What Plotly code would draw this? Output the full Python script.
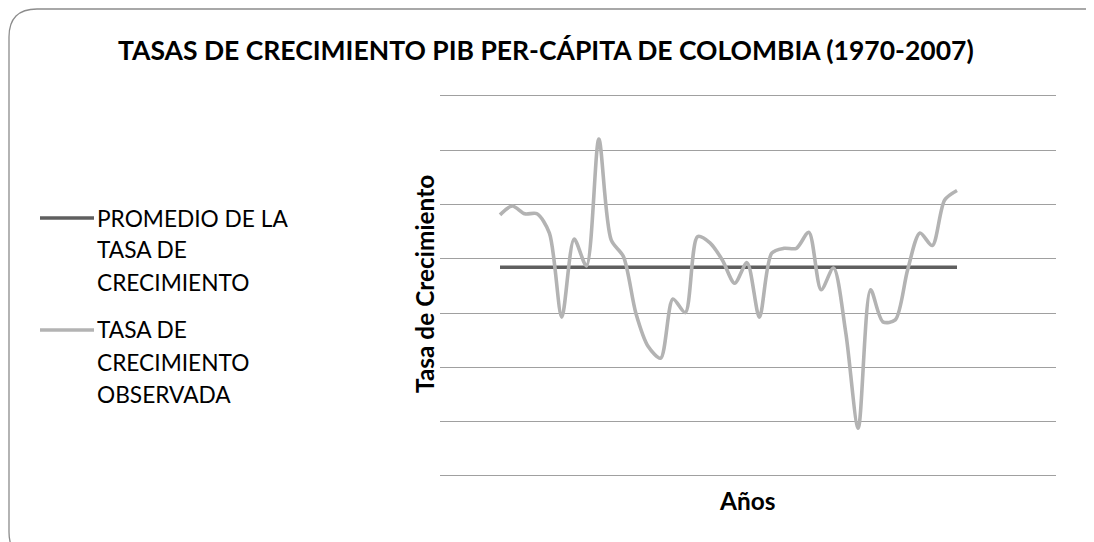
import plotly.graph_objects as go

# Data (y in % growth, gridlines every 2 points)
years = list(range(1970, 2008))
observed = [3.62, 3.95, 3.66, 3.66, 2.95, -0.15, 2.73, 1.74, 6.41, 2.70,
            2.08, 0.00, -1.23, -1.66, 0.52, 0.02, 2.82, 2.59, 1.96, 1.10,
            1.86, -0.15, 2.21, 2.39, 2.39, 2.98, 0.86, 1.66, -0.74, -4.24,
            0.86, -0.32, -0.25, 1.59, 2.95, 2.49, 4.17, 4.52]
average_value = 1.69
average = [average_value] * len(years)

series_names = ["PROMEDIO DE LA<br>TASA DE<br>CRECIMIENTO",
                "TASA DE<br>CRECIMIENTO<br>OBSERVADA"]
title_text = "TASAS DE CRECIMIENTO PIB PER-CÁPITA DE COLOMBIA (1970-2007)"
y_title = "Tasa de Crecimiento"
x_title = "Años"

W, H = 1094, 542
OFF = 8.0  # page body margin offset
FONT = "Lato"
DARK = "#5f5f5f"
LIGHT = "#b3b3b3"


def px(x):
    return (x - OFF) / W


def py(y):
    return 1 - (y - OFF) / H


fig = go.Figure()
fig.add_trace(go.Scatter(x=years, y=average, mode="lines", name=series_names[0],
                         line=dict(color=DARK, width=3.6), showlegend=False))
fig.add_trace(go.Scatter(x=years, y=observed, mode="lines", name=series_names[1],
                         line=dict(color=LIGHT, width=3.6, shape="spline", smoothing=0.8),
                         showlegend=False))

shapes = []
# rounded chart frame (cropped by the picture at right/bottom)
l, t, r, b, rad = 9.0, 9.0, 1120.0, 560.0, 28.0
path = (f"M {px(l+rad)},{py(t)} L {px(r-rad)},{py(t)} Q {px(r)},{py(t)} {px(r)},{py(t+rad)} "
        f"L {px(r)},{py(b-rad)} Q {px(r)},{py(b)} {px(r-rad)},{py(b)} "
        f"L {px(l+rad)},{py(b)} Q {px(l)},{py(b)} {px(l)},{py(b-rad)} "
        f"L {px(l)},{py(t+rad)} Q {px(l)},{py(t)} {px(l+rad)},{py(t)} Z")
shapes.append(dict(type="path", xref="paper", yref="paper", path=path,
                   line=dict(color="#8c8c8c", width=1.3), layer="below"))

# manual legend
legend_rows = [(218, DARK, ["PROMEDIO DE LA", "TASA DE", "CRECIMIENTO"]),
               (330, LIGHT, ["TASA DE", "CRECIMIENTO", "OBSERVADA"])]
annotations = []
for y0, col, lines in legend_rows:
    shapes.append(dict(type="line", xref="paper", yref="paper",
                       x0=px(40), x1=px(94), y0=py(y0), y1=py(y0),
                       line=dict(color=col, width=3.6)))
    for k, txt in enumerate(lines):
        annotations.append(dict(text=txt, xref="paper", yref="paper",
                                x=px(95), y=py(y0 + k * 32.0), xanchor="left", yanchor="middle",
                                showarrow=False, font=dict(family=FONT, size=22.7, color="#000000")))

annotations.append(dict(text=f"<b>{title_text}</b>", xref="paper", yref="paper",
                        x=px(546), y=py(50), xanchor="center", yanchor="middle",
                        showarrow=False, font=dict(family=FONT, size=26.5, color="#000000")))
annotations.append(dict(text=f"<b>{y_title}</b>", xref="paper", yref="paper",
                        x=px(424), y=py(284), xanchor="center", yanchor="middle", textangle=-90,
                        showarrow=False, font=dict(family=FONT, size=24.4, color="#000000")))
annotations.append(dict(text=f"<b>{x_title}</b>", xref="paper", yref="paper",
                        x=px(747), y=py(500), xanchor="center", yanchor="middle",
                        showarrow=False, font=dict(family=FONT, size=24.4, color="#000000")))

# plot area: x 440..1056 px, gridlines -6 (476 px) .. 8 (96 px)
ppu = (476 - 96) / 14.0
pad = 0.1
step = 457.0 / 37.0
x_lo = 1970 - (500 - 440) / step
x_hi = 2007 + (1056 - 957) / step

fig.update_layout(
    width=W, height=H,
    margin=dict(l=0, r=0, t=0, b=0),
    paper_bgcolor="white", plot_bgcolor="white",
    showlegend=False,
    shapes=shapes,
    annotations=annotations,
    xaxis=dict(domain=[px(440), px(1056)], range=[x_lo, x_hi], showgrid=False,
               showticklabels=False, ticks="", zeroline=False, showline=False),
    yaxis=dict(domain=[py(476 + pad * ppu), py(96 - pad * ppu)], range=[-6 - pad, 8 + pad],
               dtick=2, tick0=0, showgrid=True, gridcolor="#a0a0a0", gridwidth=1.3,
               showticklabels=False, ticks="", zeroline=False, showline=False),
)

fig.write_html("out.html")
